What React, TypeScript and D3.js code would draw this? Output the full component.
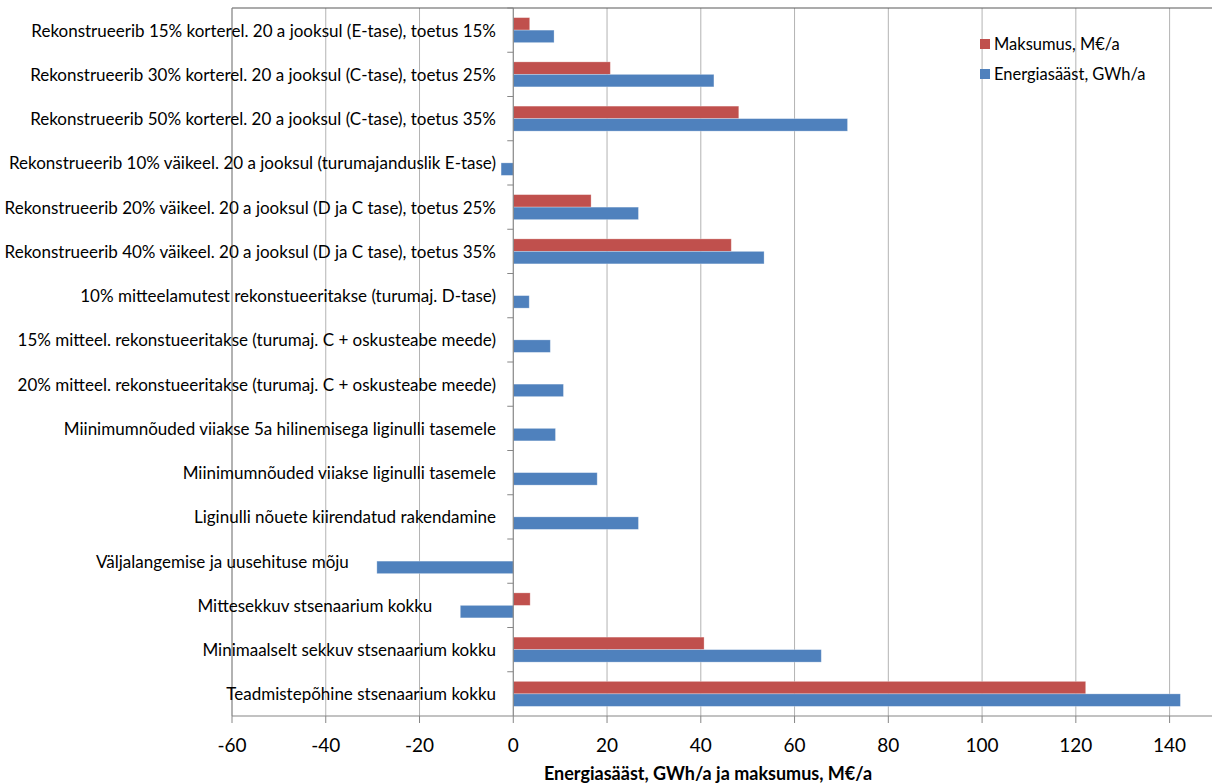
import React from "react";
import { scaleLinear, scaleBand, min } from "d3";

const width = 1212;
const height = 783;

const categories = [
  "Rekonstrueerib 15% korterel. 20 a jooksul (E-tase), toetus 15%",
  "Rekonstrueerib 30% korterel. 20 a jooksul (C-tase), toetus 25%",
  "Rekonstrueerib 50% korterel. 20 a jooksul (C-tase), toetus 35%",
  "Rekonstrueerib 10% väikeel. 20 a jooksul (turumajanduslik E-tase)",
  "Rekonstrueerib 20% väikeel. 20 a jooksul (D ja C tase), toetus 25%",
  "Rekonstrueerib 40% väikeel. 20 a jooksul (D ja C tase), toetus 35%",
  "10% mitteelamutest rekonstueeritakse (turumaj. D-tase)",
  "15% mitteel. rekonstueeritakse (turumaj. C + oskusteabe meede)",
  "20% mitteel. rekonstueeritakse (turumaj. C + oskusteabe meede)",
  "Miinimumnõuded viiakse 5a hilinemisega liginulli tasemele",
  "Miinimumnõuded viiakse liginulli tasemele",
  "Liginulli nõuete kiirendatud rakendamine",
  "Väljalangemise ja uusehituse mõju",
  "Mittesekkuv stsenaarium kokku",
  "Minimaalselt sekkuv stsenaarium kokku",
  "Teadmistepõhine stsenaarium kokku",
];

// Maksumus, M€/a
const maksumus = [3.5, 20.7, 48.1, 0, 16.6, 46.5, 0, 0, 0, 0, 0, 0, 0, 3.6, 40.7, 122.1];
// Energiasääst, GWh/a
const energia = [8.7, 42.8, 71.3, -2.6, 26.7, 53.5, 3.4, 7.9, 10.7, 9.0, 17.9, 26.7, -29.1, -11.3, 65.7, 142.3];

const seriesNames = ["Maksumus, M€/a", "Energiasääst, GWh/a"];
const seriesColors = ["#C0504D", "#4F81BD"];
const xTicks = [-60, -40, -20, 0, 20, 40, 60, 80, 100, 120, 140];

const plotLeft = 232;
const plotTop = 8;
const plotBottom = 716;

const x = scaleLinear().domain([-60, 150]).range([plotLeft, plotLeft + 210 * 4.688]);
const y = scaleBand<string>()
  .domain(categories)
  .range([plotTop, plotBottom])
  .paddingInner(0.435)
  .paddingOuter(0.2175);
const inner = scaleBand<string>().domain(seriesNames).range([0, y.bandwidth()]);

const font = "Lato, 'Open Sans', sans-serif";

export default function App() {
  const x0 = x(0);
  const step = y.step();
  const series = [maksumus, energia];
  // labels move left of long negative bars, as in the original
  const labelEnd = (i: number) => {
    const lo = x(min([maksumus[i], energia[i], 0]) ?? 0);
    return lo < 480 ? lo - 28 : 496;
  };
  return (
    <svg
      width={width}
      height={height}
      style={{ position: "absolute", left: 0, top: 0, background: "#fff" }}
      fontFamily={font}
    >
      {/* grid */}
      {xTicks
        .filter((t) => t !== 0 && t !== -60)
        .map((t) => (
          <line key={t} x1={x(t)} x2={x(t)} y1={plotTop} y2={plotBottom} stroke="#b3b3b3" strokeWidth={1} />
        ))}
      {/* plot border */}
      <line x1={plotLeft} x2={width} y1={plotTop} y2={plotTop} stroke="#595959" strokeWidth={1.2} />
      <line x1={plotLeft} x2={plotLeft} y1={plotTop} y2={plotBottom} stroke="#7f7f7f" strokeWidth={1.2} />

      {/* category labels */}
      {categories.map((c, i) => (
        <text
          key={c}
          x={labelEnd(i)}
          y={(y(c) ?? 0) + y.bandwidth() / 2}
          textAnchor="end"
          dominantBaseline="central"
          fontSize={17}
          fill="#000"
        >
          {c}
        </text>
      ))}

      {/* bars */}
      {categories.map((c, i) =>
        series.map((s, k) => {
          const v = s[i];
          if (v === 0) return null;
          const x1 = Math.min(x(v), x0);
          const w = Math.abs(x(v) - x0);
          return (
            <rect
              key={c + k}
              x={x1}
              y={(y(c) ?? 0) + (inner(seriesNames[k]) ?? 0)}
              width={w}
              height={inner.bandwidth()}
              fill={seriesColors[k]}
              stroke="#ffffff"
              strokeOpacity={0.35}
              strokeWidth={0.8}
            />
          );
        })
      )}

      {/* zero axis with category ticks */}
      <line x1={x0} x2={x0} y1={plotTop} y2={plotBottom} stroke="#868686" strokeWidth={1.2} />
      {categories.map((c, i) => (
        <line key={"t" + c} x1={x0 - 6} x2={x0} y1={plotTop + step * i} y2={plotTop + step * i} stroke="#868686" />
      ))}

      {/* bottom axis */}
      <line x1={plotLeft} x2={width} y1={plotBottom} y2={plotBottom} stroke="#868686" strokeWidth={1.2} />
      {xTicks.map((t) => (
        <g key={"x" + t}>
          <line x1={x(t)} x2={x(t)} y1={plotBottom} y2={plotBottom + 7} stroke="#868686" />
          <text x={x(t)} y={744} textAnchor="middle" dominantBaseline="central" fontSize={19} fill="#000">
            {t}
          </text>
        </g>
      ))}
      <text x={708} y={773} textAnchor="middle" dominantBaseline="central" fontSize={18} fontWeight="bold" fill="#000">
        Energiasääst, GWh/a ja maksumus, M€/a
      </text>

      {/* legend */}
      {seriesNames.map((n, k) => (
        <g key={n} transform={`translate(980, ${44 + k * 30})`}>
          <rect x={0} y={-5} width={10} height={10} fill={seriesColors[k]} />
          <text x={14} y={0} dominantBaseline="central" fontSize={16.5} fill="#000">
            {n}
          </text>
        </g>
      ))}
    </svg>
  );
}
